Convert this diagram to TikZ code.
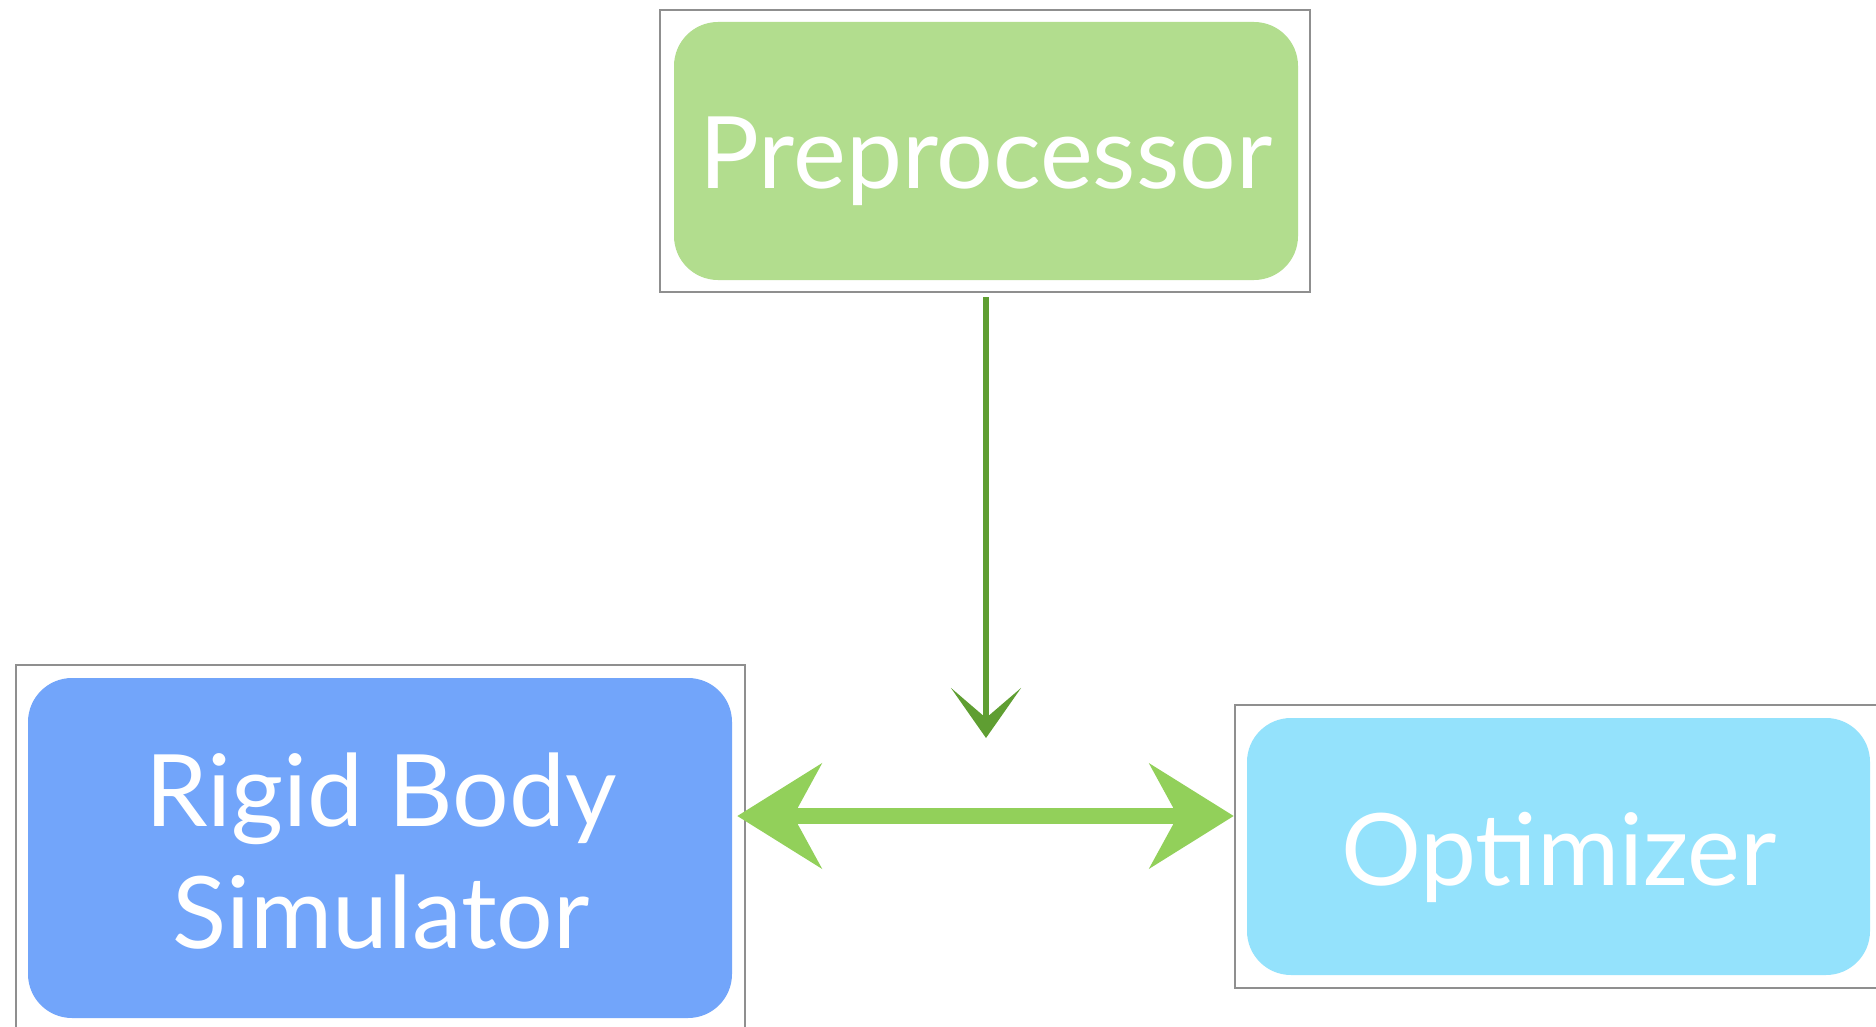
\documentclass[tikz,border=0pt]{standalone}
\usepackage{fontspec}
\setmainfont{Lato}
\usetikzlibrary{arrows.meta}
\definecolor{boxline}{HTML}{8F8F8F}
\definecolor{pregreen}{HTML}{B2DD8E}
\definecolor{rigblue}{HTML}{72A5FA}
\definecolor{optcyan}{HTML}{94E2FC}
\definecolor{darkarrow}{HTML}{5F9E32}
\definecolor{lightarrow}{HTML}{92D05A}
\begin{document}
\begin{tikzpicture}[x=1pt,y=-1pt,
  frame/.style={draw=boxline, line width=2.5pt, fill=white, inner sep=0pt, rectangle},
  panel/.style={rounded corners=44pt, inner sep=0pt, draw=none, rectangle},
  boxtext/.style={text=white, font=\fontsize{100}{122}\selectfont, inner sep=0pt, anchor=base}
]
\useasboundingbox (0,0) rectangle (1876,1027);
\clip (0,0) rectangle (1876,1027);

% outer frames
\node[frame, minimum width=650pt, minimum height=282pt] (preo) at (985,151) {};
\node[frame, minimum width=729pt, minimum height=375pt] (rigo) at (380.5,852.5) {};
\node[frame, minimum width=655pt, minimum height=283pt] (opto) at (1562.5,846.5) {};

% coloured panels
\node[panel, fill=pregreen, minimum width=624pt, minimum height=258pt] (prei) at (986,151) {};
\node[panel, fill=rigblue, minimum width=704pt, minimum height=340pt] (rigi) at (380,848) {};
\node[panel, fill=optcyan, minimum width=623pt, minimum height=257pt] (opti) at (1558.5,846.5) {};

% texts
\node[boxtext] (pretext) at (986,189) {Preprocessor};
\node[boxtext] (rigtext1) at (381,826) {Rigid Body};
\node[boxtext] (rigtext2) at (381,948) {Simulator};
\node[boxtext] (opttext) at (1559,885) {Optimizer};

% connectors
\coordinate (pretip) at (986,738);
\coordinate (hline) at (986,816);
\draw[darkarrow, line width=6pt, shorten <=4pt,
  -{Stealth[length=50pt, width=70pt, inset=30pt]}]
  (preo.south -| pretip) -- (pretip);
\draw[lightarrow, line width=16pt, shorten <=-9pt,
  {Stealth[length=84pt, width=104pt, inset=28pt]}-{Stealth[length=84pt, width=104pt, inset=28pt]}]
  (rigo.east |- hline) -- (opto.west |- hline);
\end{tikzpicture}
\end{document}
